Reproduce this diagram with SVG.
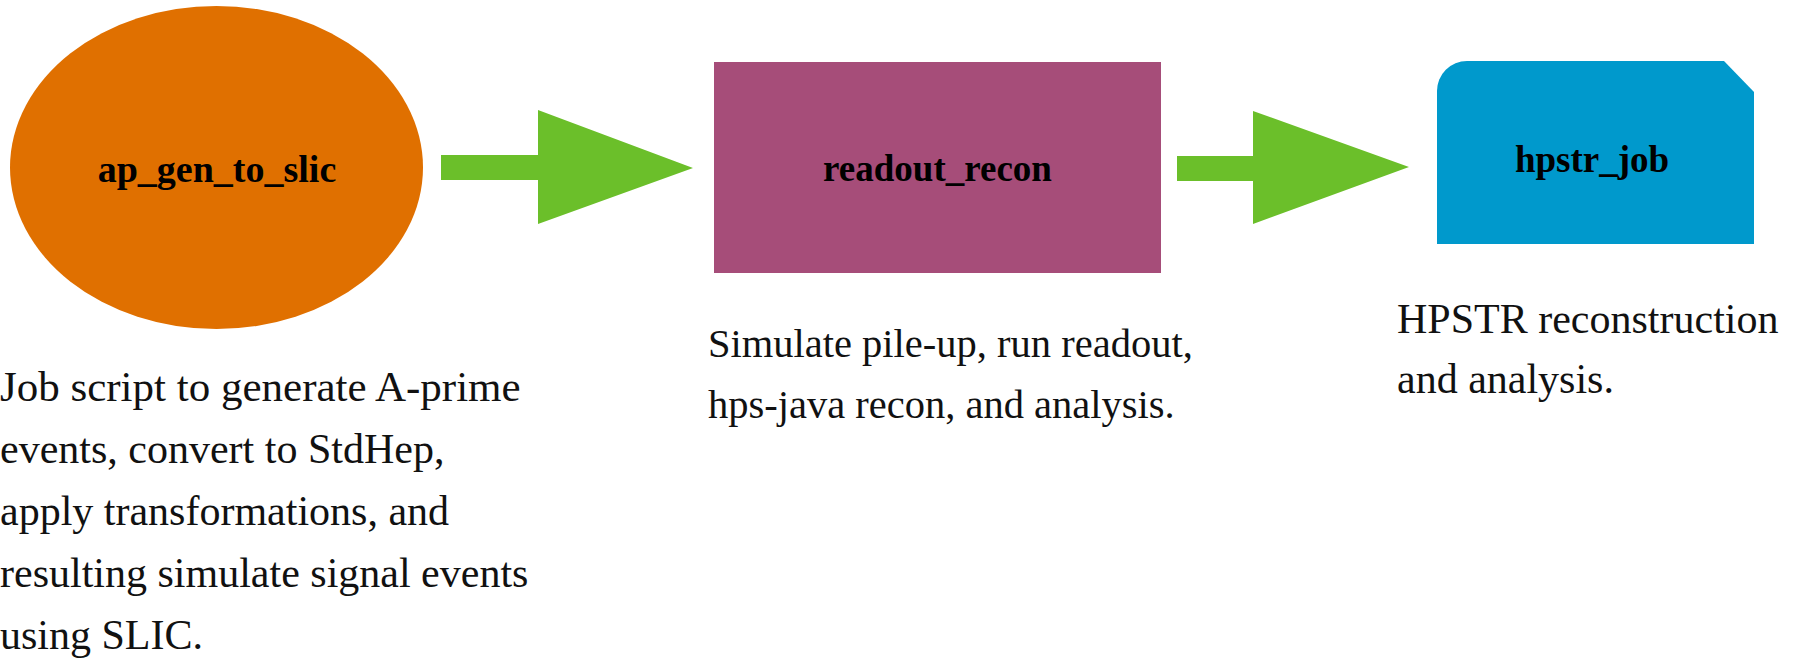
<svg xmlns="http://www.w3.org/2000/svg" width="1802" height="661" viewBox="0 0 1802 661">
<style>
.lbl{font-family:"Liberation Serif","Times New Roman",serif;font-weight:bold;font-size:37px;fill:#000;text-anchor:middle}
.desc{font-family:"Liberation Serif","Times New Roman",serif;font-size:42px;fill:#111}
.arrow{fill:#6BBF2A}
</style>
<rect width="1802" height="661" fill="#fff"/>
<g id="connectors">
<polygon class="arrow" points="441,155 538,155 538,110 693,168 538,224 538,180 441,180"/>
<polygon class="arrow" points="1177,156 1253,156 1253,111 1409,167 1253,224 1253,181 1177,181"/>
</g>
<g id="ap_gen_to_slic">
<ellipse cx="216.5" cy="167.5" rx="206.5" ry="161.5" fill="#E07000"/>
<text class="lbl" x="217" y="182" style="font-size:38px">ap_gen_to_slic</text>
</g>
<g id="readout_recon">
<rect x="714" y="62" width="447" height="211" fill="#A64D79"/>
<text class="lbl" x="937.5" y="181">readout_recon</text>
</g>
<g id="hpstr_job">
<path d="M1437,244 V91 A30,30 0 0 1 1467,61 H1724 L1754,92 V244 Z" fill="#0099CC"/>
<text class="lbl" x="1592" y="172">hpstr_job</text>
</g>
<g id="desc_ap">
<text class="desc" x="0" y="401" style="font-size:43px">Job script to generate A-prime</text>
<text class="desc" x="0" y="463">events, convert to StdHep,</text>
<text class="desc" x="0" y="525">apply transformations, and</text>
<text class="desc" x="0" y="587">resulting simulate signal events</text>
<text class="desc" x="0" y="649">using SLIC.</text>
</g>
<g id="desc_readout">
<text class="desc" x="708" y="357" style="font-size:40.5px">Simulate pile-up, run readout,</text>
<text class="desc" x="708" y="418" style="font-size:40.5px">hps-java recon, and analysis.</text>
</g>
<g id="desc_hpstr">
<text class="desc" x="1397" y="333">HPSTR reconstruction</text>
<text class="desc" x="1397" y="393">and analysis.</text>
</g>
</svg>
